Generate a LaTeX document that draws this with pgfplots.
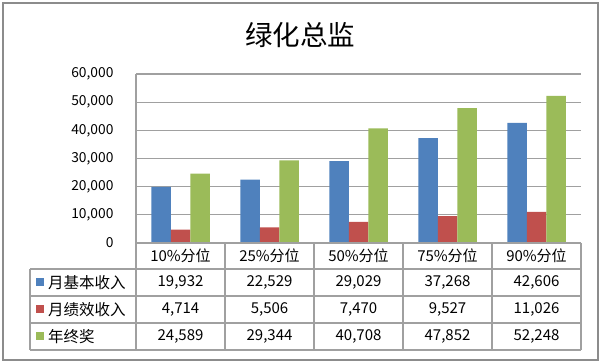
\documentclass[border=0pt]{standalone}
\usepackage{fontspec}
\setmainfont{Noto Sans CJK SC}
\usepackage{pgfplots}
\pgfplotsset{compat=1.18}
\definecolor{sblue}{HTML}{4F81BD}
\definecolor{sred}{HTML}{C0504D}
\definecolor{sgreen}{HTML}{9BBB59}
\definecolor{gridc}{HTML}{A0A0A0}
\definecolor{borderc}{HTML}{8C8C8C}
\begin{document}
\begin{tikzpicture}
\begin{scope}[x=1pt,y=-1pt,yshift=363pt]
\useasboundingbox (0,0) rectangle (602,363);
\draw[borderc, line width=1.2pt] (3,3) rectangle (598,360);
\node[font=\fontsize{27.5}{30}\selectfont, inner sep=0pt] at (300,35) {绿化总监};
\end{scope}
\begin{axis}[
  at={(136pt,120pt)}, anchor=south west,
  width=445pt, height=169pt, scale only axis,
  xmin=-0.5, xmax=4.5, ymin=0, ymax=60000,
  ybar=0pt, bar width=19.5pt,
  ytick={0,10000,20000,30000,40000,50000,60000},
  xtick=\empty,
  ymajorgrids, grid style={gridc, line width=1.2pt},
  major tick length=0pt,
  axis line style={draw=none},
  scaled y ticks=false,
  yticklabel style={font=\fontsize{13.8}{15}\selectfont, xshift=-19pt},
  /pgf/number format/.cd, assume math mode=true, 1000 sep={,},
]
\addplot[fill=sblue, draw=none] coordinates {(0,19932) (1,22529) (2,29029) (3,37268) (4,42606)};
\addplot[fill=sred, draw=none] coordinates {(0,4714) (1,5506) (2,7470) (3,9527) (4,11026)};
\addplot[fill=sgreen, draw=none] coordinates {(0,24589) (1,29344) (2,40708) (3,47852) (4,52248)};
\end{axis}
\begin{scope}[x=1pt,y=-1pt,yshift=363pt]
\begin{scope}[gridc, line width=1.2pt]
\draw (136,74) -- (136,350);
\draw (136,243) -- (581,243);
\foreach \yy in {269,296,323,350} \draw (30,\yy) -- (581,\yy);
\draw (30,269) -- (30,350);
\foreach \xx in {225,314,403,492,581} \draw (\xx,243) -- (\xx,350);
\end{scope}
\begin{scope}[font=\fontsize{15}{17}\selectfont]
\foreach \lab [count=\i from 0] in {10\%分位,25\%分位,50\%分位,75\%分位,90\%分位}
  \node at (180.5+89*\i,256) {\lab};
\foreach \v [count=\i from 0] in {19{,}932,22{,}529,29{,}029,37{,}268,42{,}606}
  \node at (180.5+89*\i,282.5) {\v};
\foreach \v [count=\i from 0] in {4{,}714,5{,}506,7{,}470,9{,}527,11{,}026}
  \node at (180.5+89*\i,309.5) {\v};
\foreach \v [count=\i from 0] in {24{,}589,29{,}344,40{,}708,47{,}852,52{,}248}
  \node at (180.5+89*\i,336.5) {\v};
\fill[sblue] (36,278.5) rectangle (44,286.5);
\fill[sred] (36,305.5) rectangle (44,313.5);
\fill[sgreen] (36,332.5) rectangle (44,340.5);
\begin{scope}[font=\fontsize{15.5}{17}\selectfont]
\node[anchor=west, inner sep=0pt] at (48,282.5) {月基本收入};
\node[anchor=west, inner sep=0pt] at (48,309.5) {月绩效收入};
\node[anchor=west, inner sep=0pt] at (48,336.5) {年终奖};
\end{scope}
\end{scope}
\end{scope}
\end{tikzpicture}
\end{document}
